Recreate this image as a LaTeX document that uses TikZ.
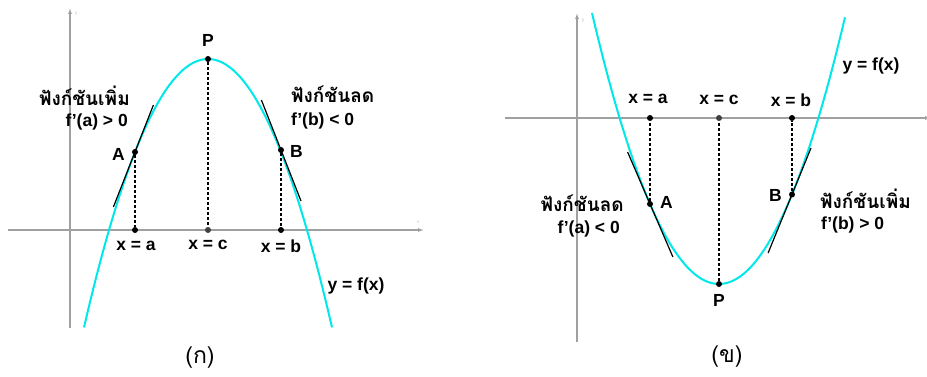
\documentclass[tikz,border=0pt]{standalone}
\usepackage{fontspec}
\setmainfont{Liberation Sans}
\newfontfamily\thaifont[Script=Thai]{Loma}
\usetikzlibrary{calc, arrows.meta}

\definecolor{curvecyan}{RGB}{0,232,232}
\definecolor{axisgray}{RGB}{160,160,160}

\tikzset{
  axis/.style={axisgray, line width=1.1pt, -{Latex[length=6pt,width=4pt]}},
  axislabel/.style={text=axisgray!60, font=\fontsize{5}{5}\selectfont, inner sep=0pt},
  curve/.style={curvecyan, line width=2pt},
  tangent/.style={black, line width=1.2pt},
  dropline/.style={black, line width=1.2pt, dash pattern=on 3pt off 2pt},
  dot/.style={circle, fill=black, inner sep=0pt, minimum size=6pt},
  lbl/.style={font=\bfseries\fontsize{17.5}{17.5}\selectfont, inner sep=0pt},
  thailbl/.style={font=\thaifont\bfseries\fontsize{19}{19}\selectfont, inner sep=0pt},
  caption/.style={font=\thaifont\fontsize{23}{23}\selectfont, inner sep=0pt}
}

\begin{document}
\begin{tikzpicture}[x=1pt, y=-1pt]
  \useasboundingbox (0,0) rectangle (927,377);

  % (ก) maximum
  \draw[axis] (8,230) -- (424,230);
  \draw[axis] (70,328) -- (70,8);
  \node[axislabel] (yk) at (76,14) {y};
  \node[axislabel] (xk) at (418,222) {x};
  \draw[curve] plot[domain=-124:124, samples=80] ({208+\x}, {59+0.01745*\x*\x});

  \node[dot] (P) at (208,59) {};
  \node[dot] (A) at (135,152) {};
  \node[dot] (B) at (281,150) {};
  \node[dot] (xa) at (135,230) {};
  \node[dot, fill=black!75] (xc) at (208,230) {};
  \node[dot] (xb) at (281,230) {};
  \draw[dropline] (A) -- (xa);
  \draw[dropline] (P) -- (xc);
  \draw[dropline] (B) -- (xb);
  \draw[tangent] ($(A)+(-21.6,55)$) -- ($(A)+(18.4,-47)$);
  \draw[tangent] ($(B)+(-19.6,-50)$) -- ($(B)+(20,51)$);

  \node[lbl] (Pk) at (208,40) {P};
  \node[lbl, anchor=east] (Ak) at (125,154) {A};
  \node[lbl, anchor=west] (Bk) at (290,151) {B};
  \node[lbl] (xak) at (136,246) {x = a};
  \node[lbl] (xck) at (208,245) {x = c};
  \node[lbl] (xbk) at (281,246) {x = b};
  \node[lbl] (fk) at (356,286) {y = f(x)};
  \node[thailbl, anchor=east] (incA) at (130,96) {ฟังก์ชันเพิ่ม};
  \node[lbl, anchor=east] (dA) at (128,122) {f'(a) > 0};
  \node[thailbl, anchor=west] (decB) at (291,94) {ฟังก์ชันลด};
  \node[lbl, anchor=west] (dB) at (291,121) {f'(b) < 0};
  \node[caption] (capk) at (200,358) {(ก)};

  % (ข) minimum
  \draw[axis] (505,118) -- (931,118);
  \draw[axis] (577,342) -- (577,13);
  \node[axislabel] (yx) at (583,21) {y};
  \draw[curve] plot[domain=-127:126, samples=80] ({719+\x}, {284-0.0168*\x*\x});

  \node[dot] (Q) at (719,284) {};
  \node[dot] (C) at (650,204) {};
  \node[dot] (D) at (792,194.5) {};
  \node[dot] (ya) at (650,118) {};
  \node[dot, fill=black!75] (yc) at (719,118) {};
  \node[dot] (yb) at (792,118) {};
  \draw[dropline] (C) -- (ya);
  \draw[dropline] (Q) -- (yc);
  \draw[dropline] (D) -- (yb);
  \draw[tangent] ($(C)+(-22.4,-52)$) -- ($(C)+(22.9,53)$);
  \draw[tangent] ($(D)+(19,-46.5)$) -- ($(D)+(-23.9,58.5)$);

  \node[lbl] (Qx) at (719,300) {P};
  \node[lbl, anchor=west] (Cx) at (660,202) {A};
  \node[lbl, anchor=east] (Dx) at (782,195) {B};
  \node[lbl] (yax) at (648,99) {x = a};
  \node[lbl] (ycx) at (719,100) {x = c};
  \node[lbl] (ybx) at (791,100) {x = b};
  \node[lbl] (fx) at (871,66) {y = f(x)};
  \node[thailbl, anchor=east] (decC) at (624,203) {ฟังก์ชันลด};
  \node[lbl, anchor=east] (dC) at (620,229) {f'(a) < 0};
  \node[thailbl, anchor=west] (incD) at (820,199) {ฟังก์ชันเพิ่ม};
  \node[lbl, anchor=west] (dD) at (821,225) {f'(b) > 0};
  \node[caption] (capx) at (727,357) {(ข)};
\end{tikzpicture}
\end{document}
